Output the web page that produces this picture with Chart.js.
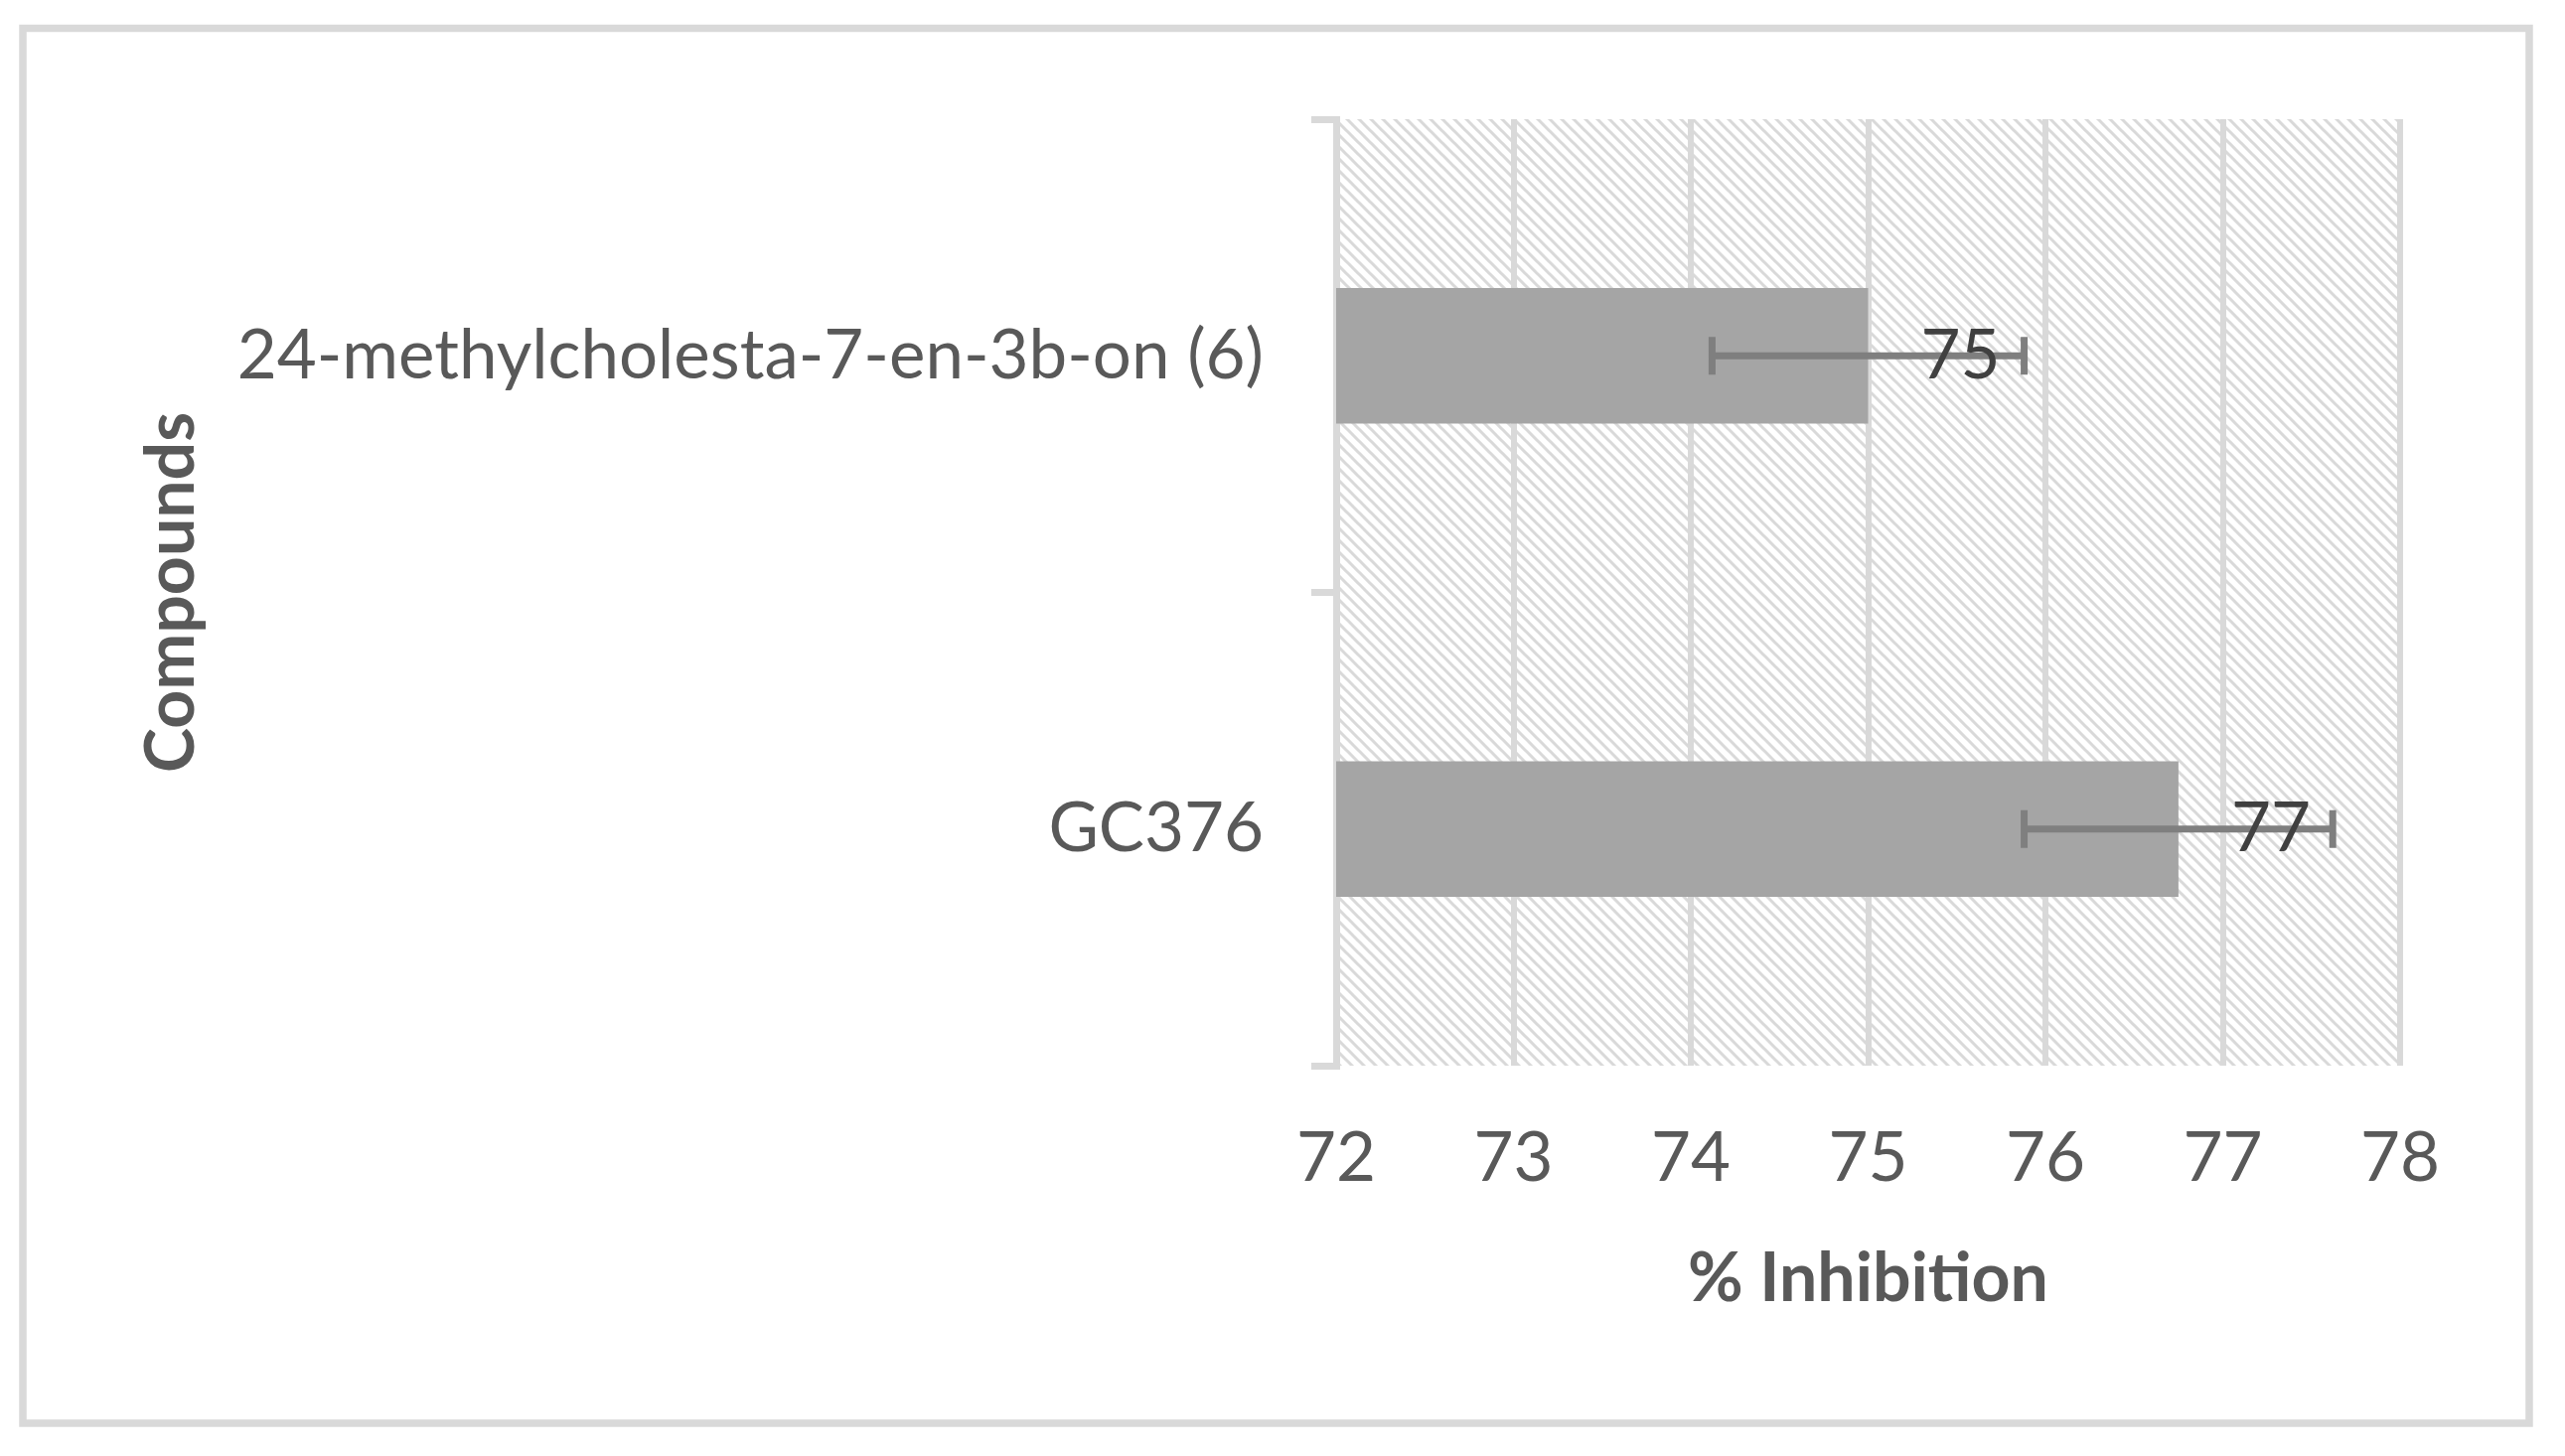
<!DOCTYPE html>
<html>
<head>
<meta charset="utf-8">
<title>% Inhibition</title>
<script src="https://cdn.jsdelivr.net/npm/chart.js@4.4.1/dist/chart.umd.min.js"></script>
<style>
  html, body { margin: 0; padding: 0; background: #fff; }
  canvas { display: block; }
</style>
</head>
<body>
<canvas id="inhibition" width="2582" height="1466"></canvas>
<script>
const compounds = ['24-methylcholesta-7-en-3b-on (6)', 'GC376'];
const inhibition = [75.0, 76.75];
const inhibitionErr = [0.88, 0.87];
const xTicks = [72, 73, 74, 75, 76, 77, 78];

const textColor = '#595959';
const lineGray = '#d9d9d9';

// light "wide downward diagonal" fill behind the plot
function makeHatch() {
  const c = document.createElement('canvas');
  c.width = 12; c.height = 12;
  const g = c.getContext('2d');
  g.fillStyle = '#fff';
  g.fillRect(0, 0, 12, 12);
  g.strokeStyle = lineGray;
  g.lineWidth = 3;
  g.beginPath();
  for (const k of [-12, 0, 12]) {
    g.moveTo(k - 2, -2);
    g.lineTo(k + 14, 14);
  }
  g.stroke();
  return c;
}

const frame = {
  id: 'frame',
  beforeDraw(chart) {
    const { ctx, chartArea: a } = chart;
    ctx.save();
    ctx.fillStyle = '#fff';
    ctx.fillRect(0, 0, chart.width, chart.height);
    ctx.fillStyle = ctx.createPattern(makeHatch(), 'repeat');
    ctx.fillRect(a.left, a.top, a.right - a.left, a.bottom - a.top);
    ctx.strokeStyle = lineGray;
    ctx.lineWidth = 7.5;
    ctx.strokeRect(23, 28.5, 2523, 1404.5);
    ctx.restore();
  }
};

const errorBars = {
  id: 'errorBars',
  afterDatasetsDraw(chart) {
    const { ctx } = chart;
    const x = chart.scales.x;
    const meta = chart.getDatasetMeta(0);
    ctx.save();
    ctx.strokeStyle = '#7f7f7f';
    ctx.lineWidth = 7;
    meta.data.forEach((bar, i) => {
      const y = bar.y;
      const lo = x.getPixelForValue(inhibition[i] - inhibitionErr[i]);
      const hi = x.getPixelForValue(inhibition[i] + inhibitionErr[i]);
      ctx.beginPath();
      ctx.moveTo(lo, y); ctx.lineTo(hi, y);
      ctx.moveTo(lo, y - 19); ctx.lineTo(lo, y + 19);
      ctx.moveTo(hi, y - 19); ctx.lineTo(hi, y + 19);
      ctx.stroke();
    });
    ctx.fillStyle = '#404040';
    ctx.font = '69px Lato';
    ctx.textAlign = 'left';
    ctx.textBaseline = 'middle';
    meta.data.forEach((bar, i) => {
      ctx.fillText(String(Math.round(inhibition[i])), bar.x + 53, bar.y);
    });
    ctx.restore();
  }
};

new Chart(document.getElementById('inhibition'), {
  type: 'bar',
  data: {
    labels: compounds,
    datasets: [{
      label: '% Inhibition',
      data: inhibition,
      backgroundColor: '#a5a5a5',
      borderWidth: 0,
      categoryPercentage: 1,
      barPercentage: 0.286
    }]
  },
  options: {
    indexAxis: 'y',
    responsive: false,
    devicePixelRatio: 1,
    animation: false,
    layout: { padding: { top: 120, right: 166, bottom: 0, left: 0 } },
    plugins: { legend: { display: false }, tooltip: { enabled: false } },
    scales: {
      x: {
        type: 'linear',
        min: 72,
        max: 78,
        afterBuildTicks: s => { s.ticks = xTicks.map(v => ({ value: v })); },
        afterFit: s => { s.height = 393; },
        grid: { color: lineGray, lineWidth: 6, drawTicks: false },
        border: { display: false },
        ticks: { color: textColor, font: { family: 'Lato', size: 69 }, padding: 52 },
        title: {
          display: true, text: '% Inhibition', color: textColor,
          font: { family: 'Lato', size: 68, weight: 'bold' },
          padding: { top: 0, bottom: 137 }
        }
      },
      y: {
        type: 'category',
        afterFit: s => { s.width = 1345; },
        grid: { color: lineGray, lineWidth: 7, drawOnChartArea: false, tickLength: 25, offset: true },
        border: { color: lineGray, width: 7 },
        ticks: { color: textColor, font: { family: 'Lato', size: 69 }, padding: 48 },
        title: {
          display: true, text: 'Compounds', color: textColor,
          font: { family: 'Lato', size: 68, weight: 'bold' },
          padding: { top: 132, bottom: 0 }
        }
      }
    }
  },
  plugins: [frame, errorBars]
});
</script>
</body>
</html>
